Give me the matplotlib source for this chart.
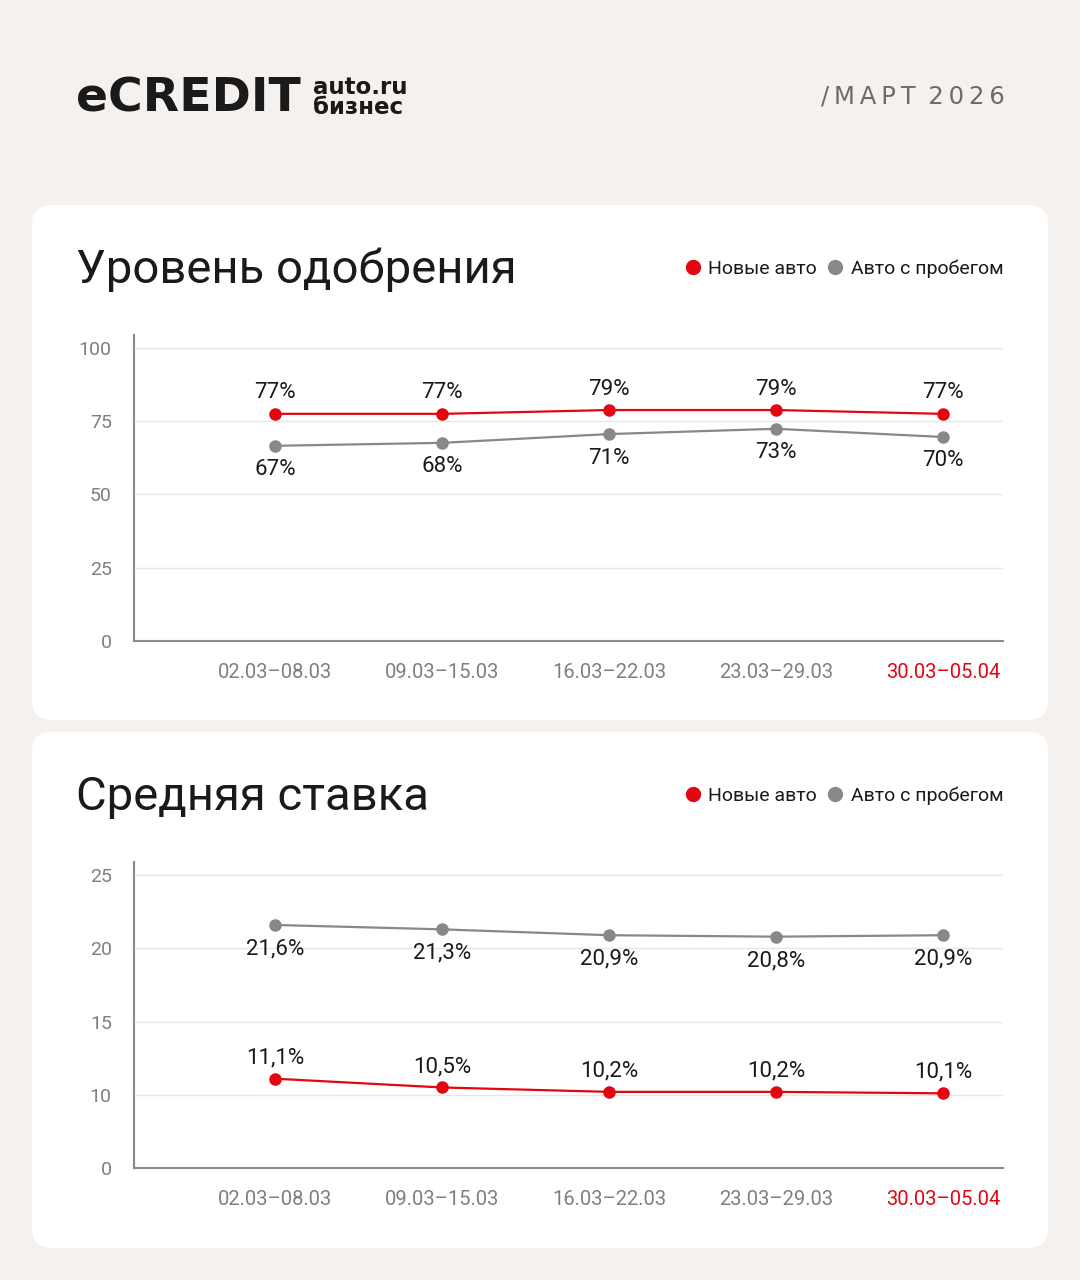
import matplotlib
matplotlib.use('Agg')
import matplotlib.pyplot as plt
from matplotlib.patches import FancyBboxPatch
from matplotlib.lines import Line2D

# data
periods = ['02.03–08.03', '09.03–15.03', '16.03–22.03', '23.03–29.03', '30.03–05.04']
approval_new = [77.5, 77.5, 78.8, 78.8, 77.5]
approval_new_lbl = ['77%', '77%', '79%', '79%', '77%']
approval_used = [66.6, 67.6, 70.6, 72.4, 69.6]
approval_used_lbl = ['67%', '68%', '71%', '73%', '70%']
rate_new = [11.1, 10.5, 10.2, 10.2, 10.1]
rate_used = [21.6, 21.3, 20.9, 20.8, 20.9]

approval_ticks = [0, 25, 50, 75, 100]
approval_tick_lbl = ['0', '25', '50', '75', '100']
# lower axis is broken: bottom tick labelled 0 sits where 5 would be
rate_ticks = [5, 10, 15, 20, 25]
rate_tick_lbl = ['0', '10', '15', '20', '25']

RED = '#E30611'
GREY = '#888888'
TICK = '#7f7f7f'
BG = '#F5F1EE'

plt.rcParams['font.family'] = ['Roboto', 'DejaVu Sans']

W, H = 1080, 1280
fig = plt.figure(figsize=(W / 100, H / 100), dpi=100)
fig.patch.set_facecolor(BG)


def fx(px):
    return px / W


def fy(py):
    return 1 - py / H


# cards
for top, bottom in [(205, 720), (732, 1248)]:
    card = FancyBboxPatch((fx(32), fy(bottom)), fx(1048 - 32), (bottom - top) / H,
                          boxstyle='round,pad=0,rounding_size=0.018',
                          transform=fig.transFigure, facecolor='white',
                          edgecolor='none', mutation_aspect=W / H, zorder=-5)
    fig.patches.append(card)

# header
fig.text(fx(76), fy(99), 'eCREDIT', fontsize=34, fontweight='bold', family=['DejaVu Sans'],
         color='#1a1a1a', va='center', ha='left')
fig.text(fx(313), fy(87), 'auto.ru', fontsize=16.5, fontweight='bold', color='#1a1a1a',
         va='center', ha='left', family=['DejaVu Sans'])
fig.text(fx(313), fy(108), 'бизнес', fontsize=16.5, fontweight='bold', color='#1a1a1a',
         va='center', ha='left', family=['DejaVu Sans'])
fig.text(fx(1005), fy(97), '\u2009'.join('/МАРТ') + ' \u2009' + '\u2009'.join('2026'),
         fontsize=17.5, color='#6e6a68', va='center', ha='right', family=['DejaVu Sans'])


def draw_panel(ax_box, title_y, ylim, ticks, tick_lbl, new_vals, used_vals,
               new_lbl, used_lbl, title):
    left, top, right, bottom = ax_box
    ax = fig.add_axes([fx(left), fy(bottom), fx(right - left), (bottom - top) / H])
    ax.set_facecolor('none')
    x = list(range(len(periods)))
    ax.plot(x, new_vals, color=RED, lw=1.6, marker='o', ms=8, zorder=3)
    ax.plot(x, used_vals, color=GREY, lw=1.6, marker='o', ms=8, zorder=3)
    for i in x:
        ax.annotate(new_lbl[i], (i, new_vals[i]), xytext=(0, 21), textcoords='offset pixels',
                    ha='center', va='center', fontsize=16, color='#1a1a1a')
        ax.annotate(used_lbl[i], (i, used_vals[i]), xytext=(0, -24), textcoords='offset pixels',
                    ha='center', va='center', fontsize=16, color='#1a1a1a')
    ax.set_xlim(-0.844, 4.359)
    ax.set_ylim(*ylim)
    ax.set_yticks(ticks)
    ax.set_yticklabels(tick_lbl)
    ax.set_xticks(x)
    ax.set_xticklabels(periods)
    ax.tick_params(axis='both', length=0, labelsize=14, labelcolor=TICK)
    ax.tick_params(axis='x', labelsize=14.5, pad=15.5)
    ax.tick_params(axis='y', pad=16)
    ax.get_xticklabels()[-1].set_color(RED)
    ax.yaxis.grid(True, color='#e6e6e6', lw=1)
    ax.set_axisbelow(True)
    for s in ['top', 'right']:
        ax.spines[s].set_visible(False)
    for s in ['left', 'bottom']:
        ax.spines[s].set_color('#8a8a8a')
        ax.spines[s].set_linewidth(1.5)
    fig.text(fx(76), fy(title_y), title, fontsize=34, color='#1a1a1a', va='center', ha='left')
    handles = [Line2D([], [], color=RED, marker='o', ls='none', ms=10),
               Line2D([], [], color=GREY, marker='o', ls='none', ms=10)]
    fig.legend(handles, ['Новые авто', 'Авто с пробегом'], loc='center right',
               bbox_to_anchor=(fx(1021), fy(title_y - 1)), ncol=2, frameon=False,
               fontsize=14, handletextpad=0.3, columnspacing=0.45, handlelength=1.0,
               labelcolor='#1a1a1a')
    return ax


draw_panel((134, 335, 1003, 641), 270, (0, 104.4), approval_ticks, approval_tick_lbl,
           approval_new, approval_used, approval_new_lbl, approval_used_lbl, 'Уровень одобрения')

rate_new_lbl = [f'{v:.1f}%'.replace('.', ',') for v in rate_new]
rate_used_lbl = [f'{v:.1f}%'.replace('.', ',') for v in rate_used]
draw_panel((134, 862, 1003, 1168), 797, (5, 25.9), rate_ticks, rate_tick_lbl,
           rate_new, rate_used, rate_new_lbl, rate_used_lbl, 'Средняя ставка')

fig.savefig('out.png', dpi=100, facecolor=BG)
